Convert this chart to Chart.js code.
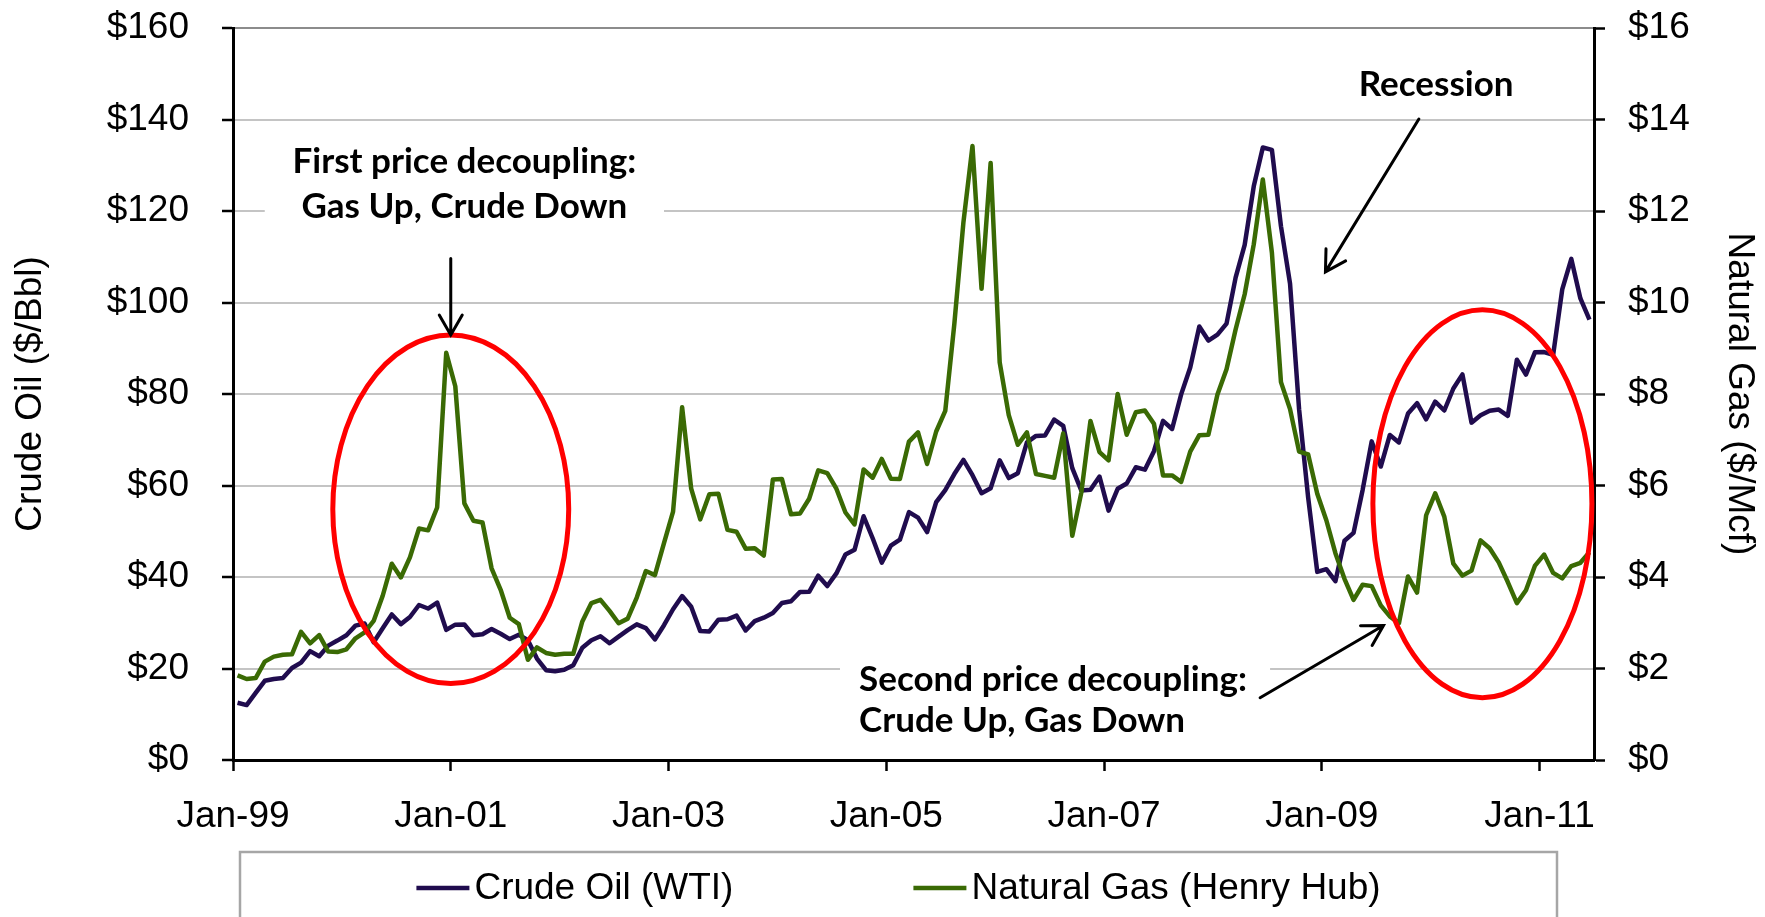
<!DOCTYPE html>
<html>
<head>
<meta charset="utf-8">
<script src="https://cdn.jsdelivr.net/npm/chart.js@4.4.1/dist/chart.umd.min.js"></script>
<style>
  html, body { margin: 0; padding: 0; background: #fff; }
</style>
</head>
<body>
<canvas id="chart" width="1765" height="917"></canvas>
<script>
// Monthly prices, Jan-99 .. Jun-11 (one row per year)
const tickLabels = ['Jan-99', 'Jan-01', 'Jan-03', 'Jan-05', 'Jan-07', 'Jan-09', 'Jan-11']

const crudeOil = [
  12.52, 12.01, 14.68, 17.31, 17.72, 17.92, 20.10, 21.28, 23.80, 22.69, 25.00, 26.10,
  27.26, 29.37, 29.84, 25.72, 28.79, 31.82, 29.70, 31.26, 33.88, 33.11, 34.42, 28.44,
  29.59, 29.61, 27.25, 27.49, 28.63, 27.60, 26.43, 27.37, 26.20, 22.17, 19.64, 19.39,
  19.72, 20.72, 24.53, 26.18, 27.04, 25.52, 26.97, 28.39, 29.66, 28.84, 26.35, 29.46,
  32.95, 35.83, 33.51, 28.17, 28.11, 30.66, 30.76, 31.57, 28.31, 30.34, 31.11, 32.13,
  34.31, 34.69, 36.74, 36.75, 40.28, 38.03, 40.78, 44.90, 45.94, 53.28, 48.47, 43.15,
  46.84, 48.15, 54.19, 52.98, 49.83, 56.35, 59.00, 62.50, 65.59, 62.26, 58.32, 59.41,
  65.49, 61.63, 62.69, 69.44, 70.84, 70.95, 74.41, 73.04, 63.80, 58.89, 59.08, 61.96,
  54.51, 59.28, 60.44, 63.98, 63.46, 67.49, 74.12, 72.36, 79.92, 85.80, 94.77, 91.69,
  92.97, 95.39, 105.45, 112.58, 125.40, 133.88, 133.37, 116.67, 104.11, 76.61, 57.31, 41.12,
  41.71, 39.09, 47.94, 49.65, 59.03, 69.64, 64.15, 71.05, 69.41, 75.72, 77.99, 74.47,
  78.33, 76.39, 81.20, 84.29, 73.74, 75.34, 76.32, 76.60, 75.24, 87.50, 84.25, 89.15,
  89.17, 88.58, 102.86, 109.53, 100.90, 96.26
]

const naturalGas = [
  1.85, 1.77, 1.79, 2.15, 2.26, 2.30, 2.31, 2.80, 2.55, 2.73, 2.37, 2.36,
  2.42, 2.66, 2.79, 3.04, 3.59, 4.29, 3.99, 4.43, 5.06, 5.02, 5.52, 8.90,
  8.17, 5.61, 5.23, 5.19, 4.19, 3.72, 3.11, 2.97, 2.19, 2.46, 2.34, 2.30,
  2.32, 2.32, 3.03, 3.43, 3.50, 3.26, 2.99, 3.09, 3.55, 4.13, 4.04, 4.74,
  5.43, 7.71, 5.93, 5.26, 5.81, 5.82, 5.03, 4.99, 4.62, 4.63, 4.47, 6.13,
  6.14, 5.37, 5.39, 5.71, 6.33, 6.27, 5.93, 5.41, 5.15, 6.35, 6.17, 6.58,
  6.15, 6.14, 6.96, 7.16, 6.47, 7.18, 7.63, 9.53, 11.75, 13.42, 10.30, 13.05,
  8.69, 7.54, 6.89, 7.16, 6.25, 6.21, 6.17, 7.14, 4.90, 5.85, 7.41, 6.73,
  6.55, 8.00, 7.11, 7.60, 7.64, 7.35, 6.22, 6.22, 6.08, 6.74, 7.10, 7.11,
  7.99, 8.54, 9.41, 10.18, 11.27, 12.69, 11.09, 8.26, 7.67, 6.74, 6.68, 5.82,
  5.24, 4.52, 3.96, 3.50, 3.83, 3.80, 3.38, 3.14, 2.99, 4.01, 3.66, 5.35,
  5.83, 5.32, 4.29, 4.03, 4.14, 4.80, 4.63, 4.32, 3.89, 3.43, 3.71, 4.25,
  4.49, 4.09, 3.97, 4.24, 4.31, 4.54
]

const seriesNames = ['Crude Oil (WTI)', 'Natural Gas (Henry Hub)']
const seriesColors = ['#200c4e', '#3a6a04']

// Annotations, in data units (x: months after Jan-99, y: crude oil axis)
const notes = [
  { lines: ['First price decoupling:', 'Gas Up, Crude Down'], x: 25.5, y: [130.8, 121.0], align: 'center' },
  { lines: ['Recession'], x: 132.6, y: [147.5], align: 'center' },
  { lines: ['Second price decoupling:', 'Crude Up, Gas Down'], x: 69.0, y: [17.6, 8.5], align: 'left' }
]
const noteBoxes = [
  { x0: 3.5, x1: 47.5, y0: 114, y1: 138 },
  { x0: 66.9, x1: 114.3, y0: 3, y1: 24 }
]
const circles = [
  { cx: 24.0, cy: 54.8, rx: 13.0, ry: 38.1 },
  { cx: 137.7, cy: 56.0, rx: 12.07, ry: 42.4 }
]
const arrows = [
  { x0: 24.0, y0: 109.6, x1: 24.0, y1: 92.9 },
  { x0: 130.7, y0: 140.1, x1: 120.4, y1: 106.7 },
  { x0: 113.2, y0: 13.6, x1: 126.8, y1: 29.4 }
]

const axisFont = '"Liberation Sans", Arial, sans-serif'
const noteFont = 'bold 35px Lato, "Open Sans", sans-serif'

Chart.defaults.font.family = axisFont
Chart.defaults.font.size = 37
Chart.defaults.color = '#000'

const annotate = {
  id: 'annotate',
  beforeDatasetsDraw(chart) {
    const { ctx, scales: { x, y } } = chart
    ctx.save()
    ctx.fillStyle = '#fff'
    noteBoxes.forEach(b => {
      const l = x.getPixelForValue(b.x0), r = x.getPixelForValue(b.x1)
      const t = y.getPixelForValue(b.y1), btm = y.getPixelForValue(b.y0)
      ctx.fillRect(l, t, r - l, btm - t)
    })
    ctx.restore()
  },
  afterDatasetsDraw(chart) {
    const { ctx, scales: { x, y } } = chart
    ctx.save()
    // red ellipses
    ctx.strokeStyle = '#ff0000'
    ctx.lineWidth = 5
    circles.forEach(c => {
      const cx = x.getPixelForValue(c.cx), cy = y.getPixelForValue(c.cy)
      const rx = x.getPixelForValue(c.cx + c.rx) - cx
      const ry = cy - y.getPixelForValue(c.cy + c.ry)
      ctx.beginPath()
      ctx.ellipse(cx, cy, rx, ry, 0, 0, Math.PI * 2)
      ctx.stroke()
    })
    // arrows
    ctx.strokeStyle = '#000'
    ctx.lineWidth = 3
    ctx.lineCap = 'round'
    arrows.forEach(a => {
      const x0 = x.getPixelForValue(a.x0), y0 = y.getPixelForValue(a.y0)
      const x1 = x.getPixelForValue(a.x1), y1 = y.getPixelForValue(a.y1)
      const ang = Math.atan2(y1 - y0, x1 - x0)
      const head = 23
      ctx.beginPath()
      ctx.moveTo(x0, y0)
      ctx.lineTo(x1, y1)
      ctx.moveTo(x1 - head * Math.cos(ang - Math.PI / 6), y1 - head * Math.sin(ang - Math.PI / 6))
      ctx.lineTo(x1, y1)
      ctx.lineTo(x1 - head * Math.cos(ang + Math.PI / 6), y1 - head * Math.sin(ang + Math.PI / 6))
      ctx.stroke()
    })
    // text
    ctx.fillStyle = '#000'
    ctx.font = noteFont
    ctx.textBaseline = 'middle'
    notes.forEach(n => {
      ctx.textAlign = n.align
      n.lines.forEach((line, i) => {
        ctx.fillText(line, x.getPixelForValue(n.x), y.getPixelForValue(n.y[i]))
      })
    })
    ctx.restore()
  },
  afterDraw(chart) {
    // legend in a grey box under the axis
    const { ctx } = chart
    const box = { left: 240, top: 852, width: 1317, height: 120 }
    const midY = 888, sample = 53, gap = 5, spacing = 180
    ctx.save()
    ctx.strokeStyle = '#a6a6a6'
    ctx.lineWidth = 2.5
    ctx.strokeRect(box.left, box.top, box.width, box.height)
    ctx.font = '37px ' + axisFont
    const widths = seriesNames.map(s => ctx.measureText(s).width)
    const total = widths.reduce((a, w) => a + sample + gap + w, 0) + spacing
    let cx = box.left + box.width / 2 - total / 2
    ctx.textBaseline = 'middle'
    ctx.textAlign = 'left'
    seriesNames.forEach((name, i) => {
      ctx.strokeStyle = seriesColors[i]
      ctx.lineWidth = 4.5
      ctx.beginPath()
      ctx.moveTo(cx, midY)
      ctx.lineTo(cx + sample, midY)
      ctx.stroke()
      ctx.fillStyle = '#000'
      ctx.fillText(name, cx + sample + gap, midY + 1)
      cx += sample + gap + widths[i] + spacing
    })
    ctx.restore()
  }
}

const toPoints = arr => arr.map((v, i) => ({ x: i + 0.5, y: v }))

// fixed axis box sizes so the plot area lands where the original has it
const fitY = w => s => { s.width = w; s.paddingTop = 0; s.paddingBottom = 0 }

new Chart(document.getElementById('chart'), {
  type: 'line',
  data: {
    datasets: [
      {
        label: seriesNames[0],
        data: toPoints(crudeOil),
        yAxisID: 'y',
        borderColor: seriesColors[0],
        borderWidth: 4.5,
        pointRadius: 0,
        tension: 0,
        borderJoinStyle: 'round',
        order: 1
      },
      {
        label: seriesNames[1],
        data: toPoints(naturalGas),
        yAxisID: 'y1',
        borderColor: seriesColors[1],
        borderWidth: 4.5,
        pointRadius: 0,
        tension: 0,
        borderJoinStyle: 'round',
        order: 0
      }
    ]
  },
  options: {
    responsive: false,
    animation: false,
    devicePixelRatio: 1,
    layout: { padding: { top: 28, left: 0, right: 0, bottom: 0 } },
    plugins: { legend: { display: false }, tooltip: { enabled: false } },
    scales: {
      x: {
        type: 'linear',
        min: 0,
        max: 150,
        afterBuildTicks: s => { s.ticks = tickLabels.map((_, i) => ({ value: i * 24 })) },
        ticks: { callback: (v, i) => tickLabels[i], padding: 24, maxRotation: 0, autoSkip: false },
        grid: { drawOnChartArea: false, tickLength: 11, tickColor: '#000', tickWidth: 2.5 },
        border: { color: '#000', width: 3 },
        afterFit: s => { s.height = 157 }
      },
      y: {
        position: 'left',
        min: 0,
        max: 160,
        ticks: { stepSize: 20, callback: v => '$' + v, padding: 33 },
        grid: {
          color: c => (c.tick && c.tick.value === 160 ? '#8c8c8c' : '#c4c4c4'),
          lineWidth: 2,
          tickLength: 11,
          tickColor: '#000',
          tickWidth: 2.5
        },
        border: { color: '#000', width: 3 },
        title: { display: true, text: 'Crude Oil ($/Bbl)', padding: { top: 9, bottom: 0 } },
        afterFit: fitY(233)
      },
      y1: {
        position: 'right',
        min: 0,
        max: 16,
        ticks: { stepSize: 2, callback: v => '$' + v, padding: 23 },
        grid: { drawOnChartArea: false, tickLength: 11, tickColor: '#000', tickWidth: 2.5 },
        border: { color: '#000', width: 3 },
        title: { display: true, text: 'Natural Gas ($/Mcf)', padding: { top: 4, bottom: 0 } },
        afterFit: fitY(171)
      }
    }
  },
  plugins: [annotate]
})
</script>
</body>
</html>
